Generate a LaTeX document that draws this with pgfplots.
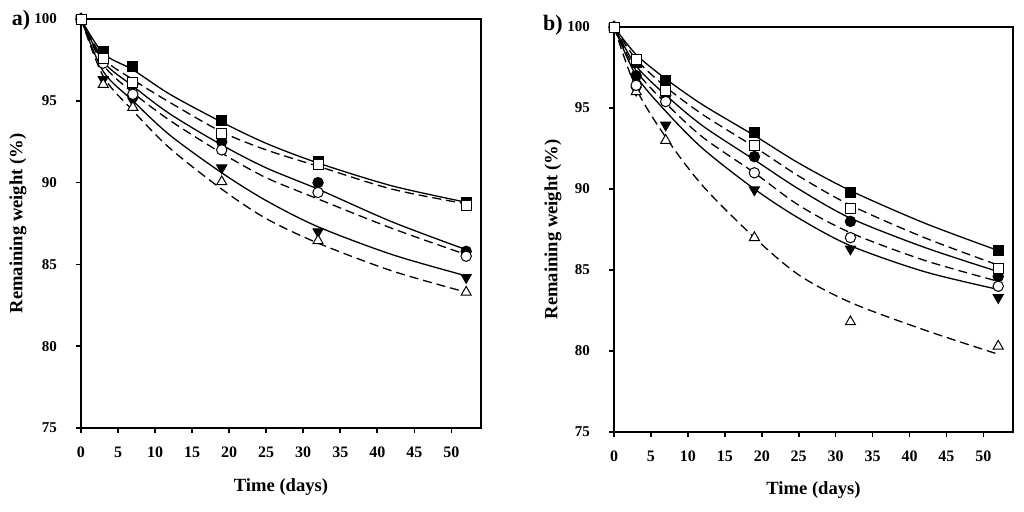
\documentclass[border=0pt]{standalone}
\usepackage{pgfplots}
\pgfplotsset{compat=1.18}
\usepackage{fontspec}
\setmainfont{Liberation Serif}
\begin{document}
\begin{tikzpicture}
\path[use as bounding box] (0pt,0pt) rectangle (512pt,255.5pt);
\pgfplotsset{
  panel/.style={
    scale only axis, anchor=south west,
    xmin=0, xmax=54, ymin=75, ymax=100,
    xtick={0,5,...,50}, ytick={75,80,...,100},
    tick align=outside, xtick pos=bottom, ytick pos=left,
    major tick length=2.5pt,
    axis line style={line width=1pt},
    every tick/.style={line width=0.8pt, black},
    /pgf/number format/assume math mode=true,
    xticklabel style={yshift=-3.5pt, font=\fontsize{8}{9}\selectfont\bfseries},
    yticklabel style={xshift=-6pt, font=\fontsize{7.5}{9}\selectfont\bfseries},
    label style={font=\fontsize{9.3}{11}\selectfont\bfseries},
    xlabel={Time (days)}, ylabel={Remaining weight (\%)},
    clip=false,
  },
  sol/.style={line width=0.65pt, black, no markers, smooth},
  das/.style={line width=0.65pt, black, no markers, smooth, dash pattern=on 4.5pt off 2.5pt},
  fsq/.style={only marks, mark=square*, mark size=2.5pt, mark options={fill=black, draw=black, line width=0.5pt}},
  osq/.style={only marks, mark=square*, mark size=2.5pt, mark options={fill=white, draw=black, line width=0.5pt}},
  fci/.style={only marks, mark=*, mark size=2.6pt, mark options={fill=black, draw=black, line width=0.5pt}},
  oci/.style={only marks, mark=*, mark size=2.6pt, mark options={fill=white, draw=black, line width=0.5pt}},
  ftr/.style={only marks, mark=triangle*, mark size=2.9pt, mark options={fill=black, draw=black, line width=0.5pt, rotate=180}},
  otr/.style={only marks, mark=triangle*, mark size=2.9pt, mark options={fill=white, draw=black, line width=0.5pt}},
}
% ---------------- panel a ----------------
\begin{axis}[panel, at={(40.5pt,41.5pt)}, width=200pt, height=204.5pt,
  xlabel style={at={(axis description cs:0.5,-0.1443)}, anchor=center},
  ylabel style={at={(axis description cs:-0.1575,0.5)}, anchor=center}]
\addplot[sol] coordinates {(0,100) (3,97.9) (7,96.9) (12,95.4) (19,93.7) (25,92.4) (32,91.2) (42,89.8) (52,88.8)};
\addplot[das] coordinates {(0,100) (3,97.6) (7,96.3) (12,94.9) (19,93.1) (25,92.0) (32,91.0) (42,89.6) (52,88.7)};
\addplot[sol] coordinates {(0,100) (3,97.4) (7,95.9) (12,94.2) (19,92.3) (25,90.9) (32,89.6) (42,87.6) (52,85.9)};
\addplot[das] coordinates {(0,100) (3,97.2) (7,95.5) (12,93.8) (19,91.8) (25,90.3) (32,89.0) (42,87.2) (52,85.6)};
\addplot[sol] coordinates {(0,100) (3,96.8) (7,95.0) (12,92.9) (19,90.6) (25,88.9) (32,87.3) (42,85.6) (52,84.3)};
\addplot[das] coordinates {(0,100) (3,96.5) (7,94.4) (12,92.1) (19,89.6) (25,87.8) (32,86.3) (42,84.6) (52,83.3)};
\addplot[fsq] coordinates {(0,100) (3,98.0) (7,97.1) (19,93.8) (32,91.3) (52,88.8)};
\addplot[fci] coordinates {(0,100) (3,97.5) (7,96.0) (19,92.5) (32,90.0) (52,85.8)};
\addplot[ftr] coordinates {(0,100) (3,96.3) (7,95.0) (19,90.9) (32,87.0) (52,84.2)};
\addplot[otr] coordinates {(0,100) (3,96.0) (7,94.6) (19,90.05) (32,86.45) (52,83.3)};
\addplot[oci] coordinates {(0,100) (3,97.3) (7,95.4) (19,92.0) (32,89.4) (52,85.5)};
\addplot[osq] coordinates {(0,100) (3,97.6) (7,96.1) (19,93.0) (32,91.1) (52,88.6)};
\end{axis}
% ---------------- panel b ----------------
\begin{axis}[panel, at={(307pt,39.5pt)}, width=199.5pt, height=202.5pt,
  xlabel style={at={(axis description cs:0.5,-0.1432)}, anchor=center},
  ylabel style={at={(axis description cs:-0.1529,0.5)}, anchor=center}]
\addplot[sol] coordinates {(0,100) (3,98.3) (7,96.8) (12,95.2) (19,93.3) (25,91.6) (32,89.9) (42,87.9) (52,86.2)};
\addplot[das] coordinates {(0,100) (3,98.0) (7,96.3) (12,94.6) (19,92.6) (25,90.8) (32,89.0) (42,87.0) (52,85.3)};
\addplot[sol] coordinates {(0,100) (3,97.6) (7,95.8) (12,93.9) (19,91.8) (25,90.0) (32,88.2) (42,86.4) (52,84.9)};
\addplot[das] coordinates {(0,100) (3,97.3) (7,95.3) (12,93.2) (19,91.0) (25,89.0) (32,87.3) (42,85.6) (52,84.3)};
\addplot[sol] coordinates {(0,100) (3,97.0) (7,94.8) (12,92.5) (19,90.0) (25,88.2) (32,86.5) (42,84.9) (52,83.8)};
\addplot[das] coordinates {(0,100) (3,96.2) (7,93.2) (12,90.2) (19,87.0) (25,84.7) (32,83.0) (42,81.3) (52,79.8)};
\addplot[fsq] coordinates {(0,100) (3,97.8) (7,96.7) (19,93.5) (32,89.8) (52,86.2)};
\addplot[fci] coordinates {(0,100) (3,97.0) (7,95.8) (19,92.0) (32,88.0) (52,84.6)};
\addplot[ftr] coordinates {(0,100) (3,96.1) (7,93.95) (19,89.95) (32,86.3) (52,83.3)};
\addplot[otr] coordinates {(0,100) (3,96.0) (7,93.0) (19,87.0) (32,81.8) (52,80.3)};
\addplot[oci] coordinates {(0,100) (3,96.4) (7,95.4) (19,91.0) (32,87.0) (52,84.0)};
\addplot[osq] coordinates {(0,100) (3,98.0) (7,96.1) (19,92.7) (32,88.8) (52,85.1)};
\end{axis}
\node[font=\fontsize{11}{12}\selectfont\bfseries] at (10.5pt,245.5pt) {a)};
\node[font=\fontsize{11}{12}\selectfont\bfseries] at (276.5pt,243pt) {b)};
\end{tikzpicture}
\end{document}
